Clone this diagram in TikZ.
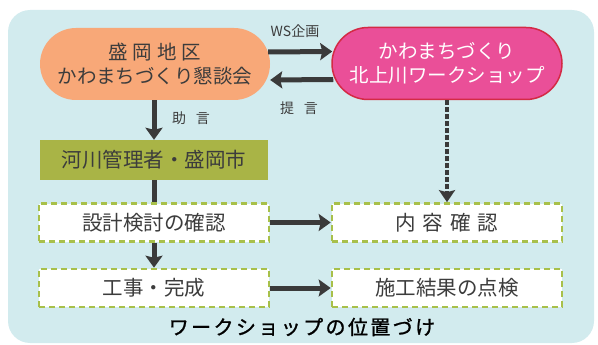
\documentclass[tikz,border=0pt]{standalone}
\usepackage{fontspec}
\setmainfont{Noto Sans CJK JP}
\usetikzlibrary{arrows.meta,calc}
\definecolor{bgblue}{HTML}{D2EBEE}
\definecolor{orangefill}{HTML}{F8A878}
\definecolor{pinkfill}{HTML}{EA4F98}
\definecolor{pinkborder}{HTML}{D42A45}
\definecolor{olivefill}{HTML}{A9B446}
\definecolor{dashgreen}{HTML}{A8C04A}
\definecolor{txtgray}{HTML}{3C3C3C}
\definecolor{arrowgray}{HTML}{3A3A3A}
\tikzset{
  pill/.style={rectangle, rounded corners=36pt, minimum width=230pt, minimum height=72pt, inner sep=0pt, align=center, font=\fontsize{19.5}{24}\selectfont},
  greenbox/.style={rectangle, fill=olivefill, minimum width=228pt, minimum height=40pt, inner sep=0pt, text=txtgray, font=\fontsize{20.5}{24}\selectfont},
  dashbox/.style={rectangle, fill=white, draw=dashgreen, line width=2.6pt, dash pattern=on 6pt off 4pt, minimum width=230pt, minimum height=38pt, inner sep=0pt, text=txtgray, font=\fontsize{20.5}{24}\selectfont},
  thickarrow/.style={draw=arrowgray, line width=5pt, -{Stealth[length=12pt,width=17pt,inset=2pt]}},
  thickline/.style={draw=arrowgray, line width=5pt},
  smalllabel/.style={text=txtgray, font=\fontsize{14}{16}\selectfont, inner sep=0pt},
}
\begin{document}
\begin{tikzpicture}[x=1pt,y=-1pt]
\useasboundingbox (0,0) rectangle (598,345);
\fill[bgblue, rounded corners=22pt] (8,10) rectangle (594,343);

\node[pill, fill=orangefill, text=txtgray] (orange) at (155,64) {盛\hspace{5pt}岡\hspace{5pt}地\hspace{5pt}区\\かわまちづくり懇談会};
\node[pill, fill=pinkfill, draw=pinkborder, line width=1.5pt, text=white] (pink) at (447,63.5) {かわまちづくり\\北上川ワークショップ};

\node[greenbox] (kasen) at (154,160) {河川管理者・盛岡市};
\node[dashbox] (sekkei) at (154,222.5) {設計検討の確認};
\node[dashbox] (koji) at (154,288) {工事・完成};
\node[dashbox] (naiyo) at (447,222.5) {内\hspace{7pt}容\hspace{7pt}確\hspace{7pt}認};
\node[dashbox] (seko) at (447,288) {施工結果の点検};

\draw[thickarrow] ($(orange.east)+(-2,-12)$) -- ($(pink.west)+(1,-12)$);
\draw[thickarrow] ($(pink.west)+(2,16)$) -- ($(orange.east)+(0,16)$);
\node[smalllabel] (ws) at (295,31) {WS企画};
\node[smalllabel] (teigen) at (299,108) {提\hspace{10pt}言};

\draw[thickarrow] (orange.south -| kasen.north) -- (kasen.north);
\node[smalllabel] (jogen) at (191,118) {助\hspace{10pt}言};

\draw[thickline] (kasen.south) -- (sekkei.north);
\draw[thickarrow] (sekkei.south) -- (koji.north);
\draw[thickarrow] (sekkei.east) -- (naiyo.west);
\draw[thickarrow] (koji.east) -- (seko.west);
\draw[draw=arrowgray, line width=4.5pt, dash pattern=on 5pt off 2pt, -{Stealth[length=12pt,width=16pt,inset=2pt]}] (pink.south) -- (naiyo.north);

\node[text=black, font=\fontsize{20}{22}\selectfont\addfontfeatures{LetterSpace=12,FakeBold=1.2}, inner sep=0pt] (title) at (302,327) {ワークショップの位置づけ};
\end{tikzpicture}
\end{document}
